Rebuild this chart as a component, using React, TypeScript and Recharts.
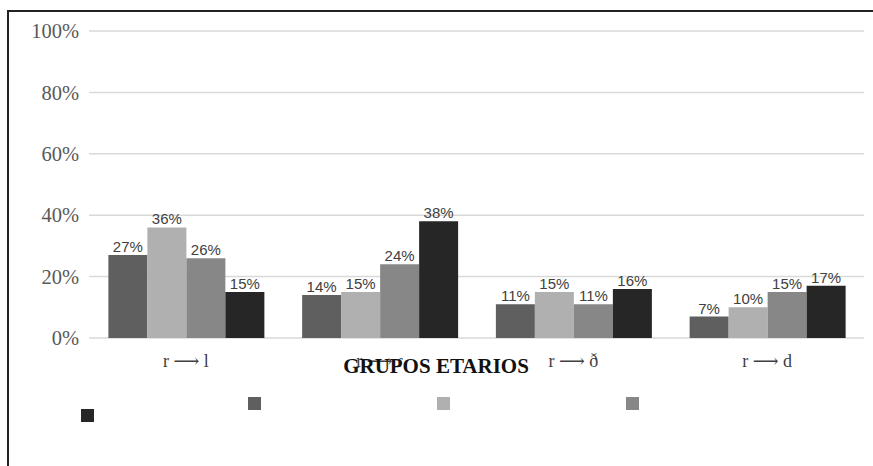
import { BarChart, Bar, XAxis, YAxis, CartesianGrid, LabelList } from "recharts";

const categories = ["r ⟶ l", "r ⟶ ɾ", "r ⟶ ð", "r ⟶ d"];
const serie1 = [27, 14, 11, 7];
const serie2 = [36, 15, 15, 10];
const serie3 = [26, 24, 11, 15];
const serie4 = [15, 38, 16, 17];
const yTicks = [0, 20, 40, 60, 80, 100];

const colors = ["#5f5f5f", "#b0b0b0", "#878787", "#262626"];

const chartData = categories.map((name, i) => ({
  name,
  s1: serie1[i],
  s2: serie2[i],
  s3: serie3[i],
  s4: serie4[i],
}));

const serif = "'Liberation Serif', 'DejaVu Serif', serif";
const sans = "'Liberation Sans', Arial, sans-serif";

// legend has no text in the source, only the colour squares
const LegendSquares = () => {
  const sq = (left: number, top: number, color: string) => (
    <div
      key={left}
      style={{ position: "absolute", left, top, width: 13, height: 13, background: color }}
    />
  );
  return (
    <>
      {sq(81, 409, colors[3])}
      {sq(248, 397, colors[0])}
      {sq(437, 397, colors[1])}
      {sq(626, 397, colors[2])}
    </>
  );
};

const YTick = ({ x, y, payload }: any) => (
  <text x={x} y={y} dy="0.355em" textAnchor="end" fontSize={20.5} fill="#595959" style={{ fontFamily: serif }}>
    {payload.value}%
  </text>
);

const XTick = ({ x, y, payload }: any) => (
  <text x={x} y={y} dy="0.71em" textAnchor="middle" fontSize={18} fill="#404040" style={{ fontFamily: serif }}>
    {payload.value}
  </text>
);

const pctLabel = (v: any) => `${v}%`;

export default function App() {
  const labelStyle = { fontSize: 15, fill: "#404040", fontFamily: sans };
  return (
    <div style={{ position: "absolute", left: 0, top: 0, width: 873, height: 466, overflow: "hidden", background: "#fff" }}>
      <div
        style={{
          position: "absolute",
          left: 7,
          top: 10,
          width: 900,
          height: 500,
          border: "2px solid #222",
          boxSizing: "border-box",
        }}
      />
      <div style={{ position: "absolute", left: 0, top: 0 }}>
        <BarChart
          width={873}
          height={466}
          data={chartData}
          margin={{ top: 31, right: 9, bottom: 98, left: 9 }}
          barCategoryGap="10%"
          barGap={0}
        >
          <CartesianGrid vertical={false} stroke="#d9d9d9" strokeWidth={1.5} />
          <XAxis
            dataKey="name"
            axisLine={false}
            tickLine={false}
            tickSize={0}
            tickMargin={16}
            tick={<XTick />}
          />
          <YAxis
            width={80}
            domain={[0, 100]}
            ticks={yTicks}
            axisLine={false}
            tickLine={false}
            tickSize={0}
            tickMargin={10}
            tick={<YTick />}
          />
          <Bar dataKey="s1" fill={colors[0]} isAnimationActive={false}>
            <LabelList dataKey="s1" position="top" offset={3} formatter={pctLabel} style={labelStyle} />
          </Bar>
          <Bar dataKey="s2" fill={colors[1]} isAnimationActive={false}>
            <LabelList dataKey="s2" position="top" offset={3} formatter={pctLabel} style={labelStyle} />
          </Bar>
          <Bar dataKey="s3" fill={colors[2]} isAnimationActive={false}>
            <LabelList dataKey="s3" position="top" offset={3} formatter={pctLabel} style={labelStyle} />
          </Bar>
          <Bar dataKey="s4" fill={colors[3]} isAnimationActive={false}>
            <LabelList dataKey="s4" position="top" offset={3} formatter={pctLabel} style={labelStyle} />
          </Bar>
        </BarChart>
      </div>
      <LegendSquares />
      <div
        style={{
          position: "absolute",
          left: 286,
          width: 300,
          top: 355,
          textAlign: "center",
          fontFamily: serif,
          fontWeight: "bold",
          fontSize: 21,
          color: "#111",
          lineHeight: "22px",
        }}
      >
        GRUPOS ETARIOS
      </div>
    </div>
  );
}
